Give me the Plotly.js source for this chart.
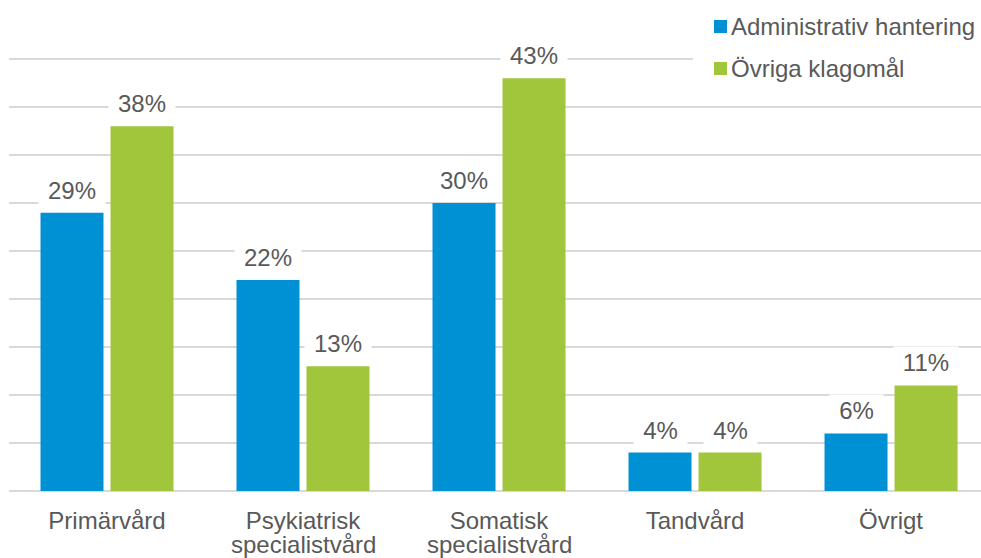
<!DOCTYPE html>
<html>
<head>
<meta charset="utf-8">
<script src="https://cdn.plot.ly/plotly-3.0.1.min.js"></script>
<style>html,body{margin:0;padding:0;overflow:hidden;background:#fff}#chart{width:981px;height:558px}</style>
</head>
<body>
<div id="chart"></div>
<script>
const categories = ["Primärvård", "Psykiatrisk specialistvård", "Somatisk specialistvård", "Tandvård", "Övrigt"];
const categoryLine1 = ["Primärvård", "Psykiatrisk", "Somatisk", "Tandvård", "Övrigt"];
const categoryLine2 = ["", "specialistvård", "specialistvård", "", ""];
const seriesNames = ["Administrativ hantering", "Övriga klagomål"];
const adminValues = [29, 22, 30, 4, 6];
const ovrigaValues = [38, 13, 43, 4, 11];
const colors = ["#0091D5", "#A1C53B"];
const allSeries = [adminValues, ovrigaValues];

const FONT = "Liberation Sans, Arial, sans-serif";
const FS = 24;
const TXT = "#595959";

const cv = document.createElement("canvas").getContext("2d");
cv.font = FS + "px 'Liberation Sans'";
function tw(s) { return cv.measureText(s).width; }

// plot area geometry (pixels) for paper-coordinate legend
const L = 9, T = 11, W = 972, H = 480;
const px2x = p => (p - L) / W;
const py2y = p => (T + H - p) / H;

const traces = allSeries.map((vals, s) => ({
  type: "bar",
  name: seriesNames[s],
  x: categories,
  y: vals,
  marker: {color: colors[s]},
  hoverinfo: "none",
  showlegend: false
}));

const annotations = [];
allSeries.forEach((vals, s) => {
  vals.forEach((v, i) => {
    const t = v + "%";
    annotations.push({
      x: categories[i], y: v, xref: "x", yref: "y",
      text: t, showarrow: false,
      xshift: s === 0 ? -35 : 35,
      yanchor: "bottom", yshift: 6,
      bgcolor: "#ffffff", borderpad: 2, width: Math.round(tw(t) + 14),
      font: {family: FONT, size: FS, color: TXT}
    });
  });
});
categoryLine2.forEach((t, i) => {
  if (!t) return;
  annotations.push({
    x: categories[i], y: 0, xref: "x", yref: "y",
    text: t, showarrow: false, yanchor: "middle", yshift: -53.5,
    font: {family: FONT, size: FS, color: TXT}
  });
});

// custom legend
const shapes = [{
  type: "rect", xref: "paper", yref: "paper", layer: "above",
  x0: px2x(693), x1: px2x(985), y0: py2y(90), y1: py2y(0),
  fillcolor: "#ffffff", line: {width: 0}
}];
seriesNames.forEach((n, s) => {
  const cy = 26.5 + 42 * s;
  shapes.push({
    type: "rect", xref: "paper", yref: "paper", layer: "above",
    x0: px2x(714), x1: px2x(727), y0: py2y(cy + 6.5), y1: py2y(cy - 6.5),
    fillcolor: colors[s], line: {width: 0}
  });
  annotations.push({
    x: px2x(729), y: py2y(cy), xref: "paper", yref: "paper",
    xanchor: "left", yanchor: "middle", text: n, showarrow: false,
    font: {family: FONT, size: FS, color: TXT}
  });
});

const layout = {
  width: 981, height: 558,
  margin: {l: L, r: 0, t: T, b: 558 - T - H},
  paper_bgcolor: "#ffffff", plot_bgcolor: "#ffffff",
  barmode: "group", bargap: 0.2857, bargroupgap: 0.1,
  font: {family: FONT, size: FS, color: TXT},
  xaxis: {
    range: [-0.5, 4.459], showgrid: false, showline: false, zeroline: false,
    ticks: "", tickmode: "array", tickvals: categories, ticktext: categoryLine1,
    ticklabelstandoff: 13,
    tickfont: {family: FONT, size: FS, color: TXT}, fixedrange: true
  },
  yaxis: {
    range: [0, 50.02], dtick: 5, showticklabels: false, showgrid: true,
    gridcolor: "#d9d9d9", gridwidth: 1.5, zeroline: true, zerolinecolor: "#d9d9d9", zerolinewidth: 1.5,
    showline: false, ticks: "", fixedrange: true
  },
  showlegend: false,
  shapes: shapes,
  annotations: annotations
};

Plotly.newPlot("chart", traces, layout, {displayModeBar: false, staticPlot: true});
</script>
</body>
</html>
